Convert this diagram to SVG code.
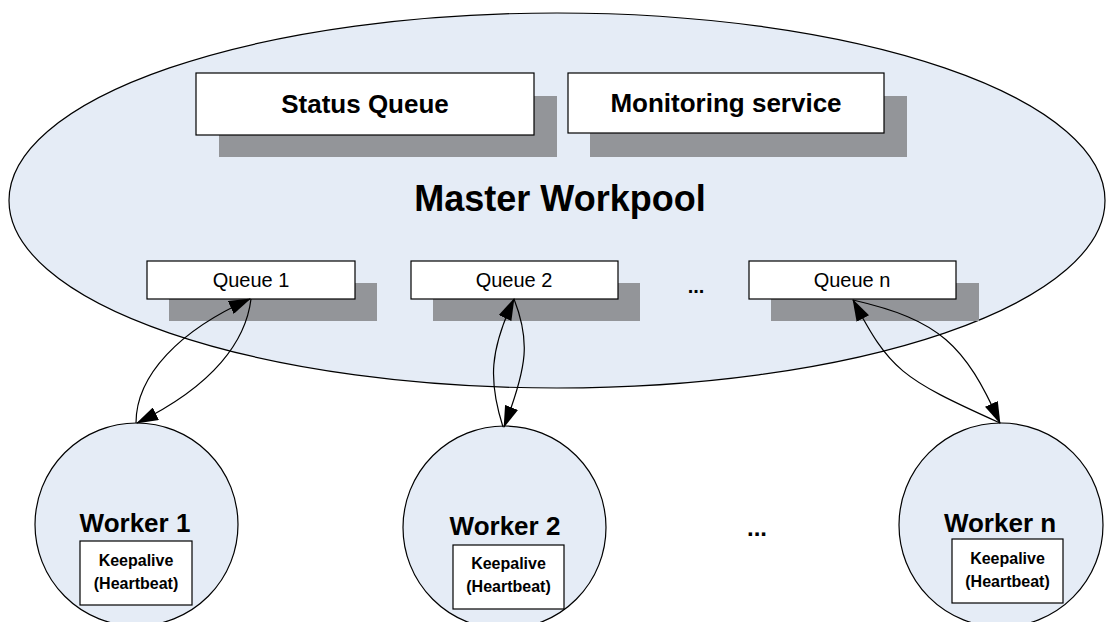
<svg xmlns="http://www.w3.org/2000/svg" width="1106" height="622" viewBox="0 0 1106 622">
<style>
.pool{fill:#e5ecf6;stroke:#000;stroke-width:1.2}
.shadow{fill:#939599;stroke:none}
.box{fill:#fff;stroke:#000;stroke-width:1.2}
.worker{fill:#e5ecf6;stroke:#000;stroke-width:1.2}
.conn{fill:none;stroke:#000;stroke-width:1.2}
text{font-family:"Liberation Sans",Arial,sans-serif;fill:#000;text-anchor:middle}
.big{font-size:26px;font-weight:bold}
.title{font-size:36px;font-weight:bold}
.q{font-size:20px}
.w{font-size:26px;font-weight:bold}
.k{font-size:16px;font-weight:bold}
.dots{font-size:24px;font-weight:bold}
</style>
<defs>
<marker id="arr" markerUnits="userSpaceOnUse" markerWidth="22" markerHeight="14" refX="21" refY="7" orient="auto">
<path d="M0,0 L22,7 L0,14 Z" fill="#000"/>
</marker>
</defs>
<g id="master-workpool">
<ellipse class="pool" cx="557" cy="200.5" rx="548" ry="187.5"/>
<text class="title" x="560" y="211">Master Workpool</text>
</g>
<g id="status-queue">
<rect class="shadow" x="219" y="96" width="338" height="61"/>
<rect class="box" x="196" y="73" width="338" height="62"/>
<text class="big" x="365" y="113">Status Queue</text>
</g>
<g id="monitoring-service">
<rect class="shadow" x="590" y="96" width="317" height="61"/>
<rect class="box" x="568" y="73" width="316" height="60"/>
<text class="big" x="726" y="112">Monitoring service</text>
</g>
<g id="queue-1">
<rect class="shadow" x="169" y="283" width="208" height="38"/>
<rect class="box" x="147" y="261" width="208" height="38"/>
<text class="q" x="251" y="287">Queue 1</text>
</g>
<g id="queue-2">
<rect class="shadow" x="433" y="283" width="207" height="38"/>
<rect class="box" x="411" y="261" width="207" height="38"/>
<text class="q" x="514" y="287">Queue 2</text>
</g>
<g id="queue-dots">
<text class="q" style="font-weight:bold" x="696" y="293">...</text>
</g>
<g id="queue-n">
<rect class="shadow" x="771" y="283" width="208" height="38"/>
<rect class="box" x="749" y="261" width="207" height="38"/>
<text class="q" x="852" y="287">Queue n</text>
</g>
<g id="worker-1">
<circle class="worker" cx="136.5" cy="524.5" r="101.5"/>
<text class="w" x="135" y="532">Worker 1</text>
<rect class="box" x="80" y="541" width="112" height="64"/>
<text class="k" x="136" y="566">Keepalive</text>
<text class="k" x="136" y="589">(Heartbeat)</text>
</g>
<g id="worker-2">
<circle class="worker" cx="504.5" cy="527.5" r="101.5"/>
<text class="w" x="505" y="535">Worker 2</text>
<rect class="box" x="453" y="545" width="111" height="64"/>
<text class="k" x="508.5" y="569">Keepalive</text>
<text class="k" x="508.5" y="592">(Heartbeat)</text>
</g>
<g id="worker-dots">
<text class="dots" x="757" y="536">...</text>
</g>
<g id="worker-n">
<circle class="worker" cx="1001" cy="525" r="102"/>
<text class="w" x="1000" y="532">Worker n</text>
<rect class="box" x="952" y="539" width="111" height="64"/>
<text class="k" x="1007.5" y="564">Keepalive</text>
<text class="k" x="1007.5" y="587">(Heartbeat)</text>
</g>
<g id="connectors">
<path class="conn" marker-end="url(#arr)" d="M136,423 C136,375 180,330 250,299"/>
<path class="conn" marker-end="url(#arr)" d="M251,299 C246,340 215,385 137,423"/>
<path class="conn" marker-end="url(#arr)" d="M503,427 C488,380 490,350 514,299"/>
<path class="conn" marker-end="url(#arr)" d="M514,299 C530,340 528,365 504,427"/>
<path class="conn" marker-end="url(#arr)" d="M1000,423 C900,378 890,370 853,300"/>
<path class="conn" marker-end="url(#arr)" d="M853,300 C940,320 965,345 1000,423"/>
</g>
</svg>
